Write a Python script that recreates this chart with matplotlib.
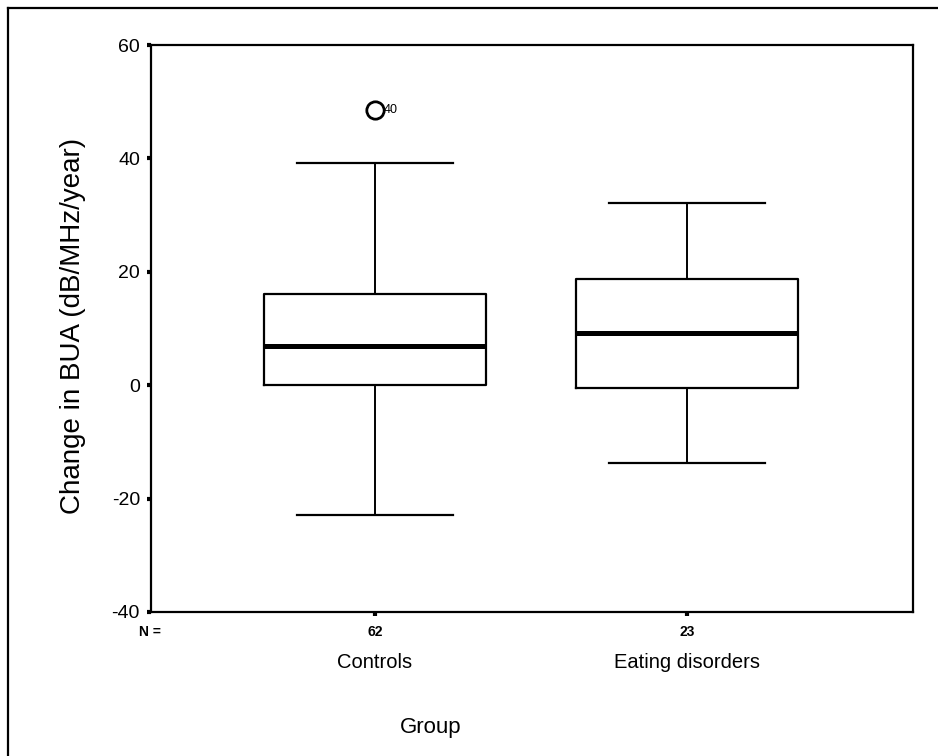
import matplotlib
matplotlib.use("Agg")
import matplotlib.pyplot as plt
from matplotlib.lines import Line2D
import matplotlib.transforms as mtransforms

plt.rcParams['font.family'] = ['Liberation Sans', 'DejaVu Sans']
plt.rcParams['axes.unicode_minus'] = False

# data
groups = ["Controls", "Eating disorders"]
n_counts = ["62", "23"]
whis_lo = [-22.9, -13.8]
q1 = [0.0, -0.5]
medians = [6.9, 9.2]
q3 = [16.0, 18.7]
whis_hi = [39.2, 32.1]
outliers = [[48.5], []]
outlier_ids = [["40"], []]

positions = [1, 2]

fig = plt.figure(figsize=(9.38, 7.56), dpi=100)
ax = fig.add_axes([151/938, 1 - 612/756, 762/938, 567/756])

stats = []
for i in range(len(groups)):
    stats.append(dict(label=groups[i], whislo=whis_lo[i], q1=q1[i], med=medians[i],
                      q3=q3[i], whishi=whis_hi[i], fliers=outliers[i]))

ax.bxp(stats, positions=positions, widths=0.71, capwidths=0.5, showfliers=True,
       boxprops=dict(color='black', linewidth=1.6),
       medianprops=dict(color='black', linewidth=3.6, solid_capstyle='butt'),
       whiskerprops=dict(color='black', linewidth=1.4),
       capprops=dict(color='black', linewidth=1.6),
       flierprops=dict(marker='o', markersize=12.5, markerfacecolor='none',
                       markeredgecolor='black', markeredgewidth=2))

for i, ids in enumerate(outlier_ids):
    for val, lab in zip(outliers[i], ids):
        ax.annotate(lab, (positions[i], val), xytext=(6.5, 0), textcoords='offset points',
                    va='center', ha='left', fontsize=9)

ax.set_xlim(0.282, 2.724)
ax.set_ylim(-40, 60)
ax.set_yticks([-40, -20, 0, 20, 40, 60])
ax.set_xticks(positions)
ax.set_xticklabels([])
ax.tick_params(axis='y', labelsize=14, length=3, width=3, direction='out', pad=5)
ax.tick_params(axis='x', length=3, width=3, direction='out')
for sp in ax.spines.values():
    sp.set_linewidth(1.6)

trans = mtransforms.blended_transform_factory(ax.transData, fig.transFigure)
for i in range(len(groups)):
    ax.text(positions[i], 1 - 632/756, n_counts[i], transform=trans, ha='center',
            va='center', fontsize=10, fontweight='bold')
    ax.text(positions[i], 1 - 663/756, groups[i], transform=trans, ha='center',
            va='center', fontsize=14.5)
ax.text(150/938, 1 - 632/756, "N =", transform=fig.transFigure, ha='center',
        va='center', fontsize=10, fontweight='bold')

fig.text(431/938, 1 - 728/756, "Group", ha='center', va='center', fontsize=16)
fig.text(73/938, 1 - 326/756, "Change in BUA (dB/MHz/year)", rotation=90,
         ha='center', va='center', fontsize=20)

# outer frame (only top and left edges visible in the crop)
fig.add_artist(Line2D([8/938, 1.0], [1 - 8/756, 1 - 8/756], transform=fig.transFigure,
                      color='black', linewidth=1.6))
fig.add_artist(Line2D([8/938, 8/938], [0.0, 1 - 8/756], transform=fig.transFigure,
                      color='black', linewidth=1.6))

fig.savefig("out.png", dpi=100)
